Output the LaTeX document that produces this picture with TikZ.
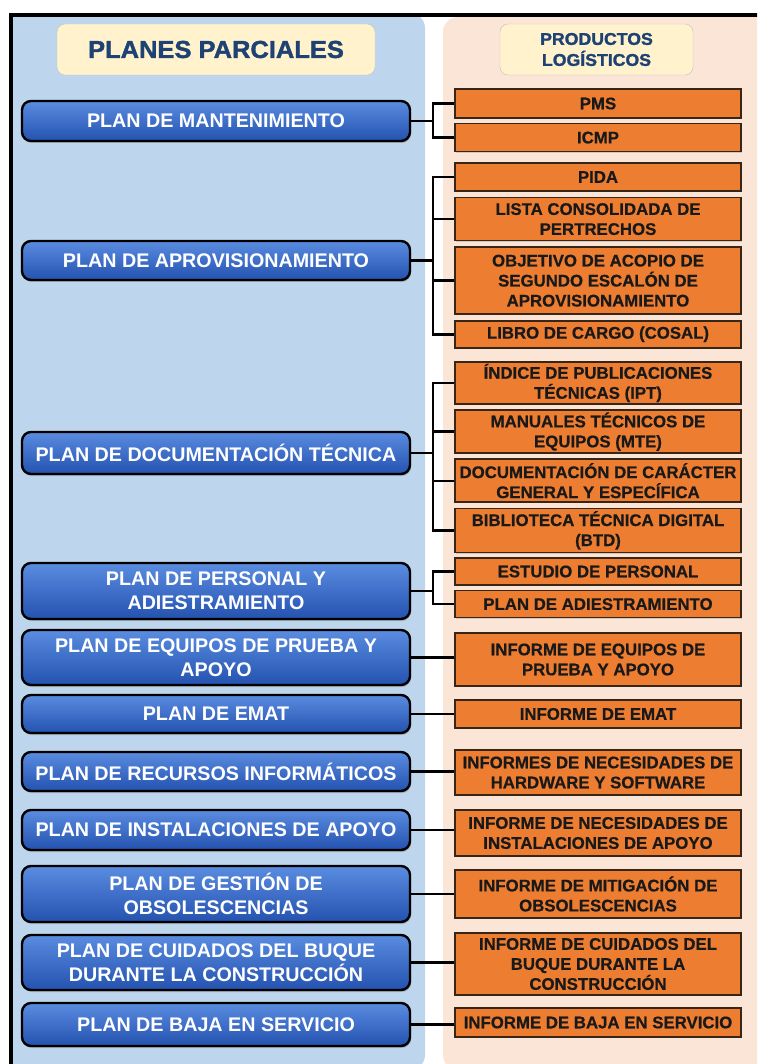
\documentclass[tikz,border=0pt]{standalone}
\usepackage{fontspec}
\setmainfont{Liberation Sans}
\newfontfamily\headfont[FakeStretch=1.04, FakeBold=1.6]{Liberation Sans}
\newfontfamily\prodfont[FakeBold=0.6]{Liberation Sans}
\usepackage{xcolor}
\definecolor{PanBlue}{RGB}{190,214,237}
\definecolor{PanPeach}{RGB}{251,229,215}
\definecolor{HeadFill}{RGB}{255,242,204}
\definecolor{HeadText}{RGB}{30,66,116}
\definecolor{PlanTop}{RGB}{90,140,224}
\definecolor{PlanBot}{RGB}{36,82,176}
\definecolor{ProdFill}{RGB}{237,125,49}
\definecolor{ProdLine}{RGB}{55,38,22}
\usetikzlibrary{positioning,shadows}

\begin{document}
\begin{tikzpicture}[x=1pt, y=-1pt]
\tikzstyle{plan}=[draw=black, line width=2.4pt, rounded corners=9pt, top color=PlanTop, bottom color=PlanBot, text=white, minimum width=388pt, align=center, font=\fontsize{19.7}{24}\selectfont\bfseries, drop shadow={shadow xshift=1pt, shadow yshift=-2pt, opacity=.45}]
\tikzstyle{prod}=[draw=ProdLine, line width=1.6pt, fill=ProdFill, text=black!90, minimum width=286pt, inner sep=1pt, align=center, font=\prodfont\fontsize{16.8}{20}\selectfont\bfseries, drop shadow={shadow xshift=1.2pt, shadow yshift=-1.2pt, opacity=.3}]
\tikzstyle{head}=[draw=black!25, fill=HeadFill, rounded corners=8pt, minimum height=51pt, text=HeadText, align=center]
\tikzstyle{conn}=[line width=2.4pt, draw=black]

\useasboundingbox (0,0) rectangle (757,1064);
\clip (0,0) rectangle (757,1064);

% background panels and frame
\fill[PanBlue, rounded corners=15pt] (9,13) rectangle (425,1070);
\fill[PanBlue] (9,13) rectangle (40,60);
\fill[PanPeach, rounded corners=15pt] (443,17) rectangle (790,1070);
\draw[line width=4pt] (11,1080) -- (11,15) -- (790,15);

\node[head, minimum width=318pt, font=\headfont\bfseries\fontsize{24.5}{24}\selectfont] (hplan) at (216,49.5) {PLANES PARCIALES};
\node[head, minimum width=193pt, font=\headfont\bfseries\fontsize{17}{21}\selectfont] (hprod) at (596.5,49.5) {PRODUCTOS\\LOGÍSTICOS};

% planes parciales
\node[plan, minimum height=40pt] (mant) at (216,121) {PLAN DE MANTENIMIENTO};
\node[plan, minimum height=39pt] (aprov) at (216,260.5) {PLAN DE APROVISIONAMIENTO};
\node[plan, minimum height=42pt] (doc) at (216,453) {PLAN DE DOCUMENTACIÓN TÉCNICA};
\node[plan, minimum height=56pt] (pers) at (216,591) {PLAN DE PERSONAL Y\\ADIESTRAMIENTO};
\node[plan, minimum height=55pt] (equip) at (216,657.5) {PLAN DE EQUIPOS DE PRUEBA Y\\APOYO};
\node[plan, minimum height=38pt] (emat) at (216,714) {PLAN DE EMAT};
\node[plan, minimum height=39pt] (recur) at (216,771.5) {PLAN DE RECURSOS INFORMÁTICOS};
\node[plan, minimum height=40pt] (instal) at (216,830) {PLAN DE INSTALACIONES DE APOYO};
\node[plan, minimum height=56pt] (obsol) at (216,894) {PLAN DE GESTIÓN DE\\OBSOLESCENCIAS};
\node[plan, minimum height=55pt] (cuid) at (216,962.5) {PLAN DE CUIDADOS DEL BUQUE\\DURANTE LA CONSTRUCCIÓN};
\node[plan, minimum height=43pt] (baja) at (216,1024.5) {PLAN DE BAJA EN SERVICIO};

% productos logisticos
\node[prod, minimum height=29pt] (pms) at (598,103.5) {PMS};
\node[prod, minimum height=28pt, below=4pt of pms] (icmp) {ICMP};

\node[prod, minimum height=28pt] (pida) at (598,177) {PIDA};
\node[prod, minimum height=43pt, below=5pt of pida] (lista) {LISTA CONSOLIDADA DE\\PERTRECHOS};
\node[prod, minimum height=67pt, below=5pt of lista] (acopio) {OBJETIVO DE ACOPIO DE\\SEGUNDO ESCALÓN DE\\APROVISIONAMIENTO};
\node[prod, minimum height=27pt, below=5pt of acopio] (libro) {LIBRO DE CARGO (COSAL)};

\node[prod, minimum height=42pt] (ipt) at (598,383) {ÍNDICE DE PUBLICACIONES\\TÉCNICAS (IPT)};
\node[prod, minimum height=43pt, below=4.5pt of ipt] (mte) {MANUALES TÉCNICOS DE\\EQUIPOS (MTE)};
\node[prod, minimum height=43pt, below=4.5pt of mte] (docgen) {DOCUMENTACIÓN DE CARÁCTER\\GENERAL Y ESPECÍFICA};
\node[prod, minimum height=44pt, below=4.5pt of docgen] (btd) {BIBLIOTECA TÉCNICA DIGITAL\\(BTD)};

\node[prod, minimum height=27pt] (estud) at (598,571.5) {ESTUDIO DE PERSONAL};
\node[prod, minimum height=27pt, below=4pt of estud] (adies) {PLAN DE ADIESTRAMIENTO};

\node[prod, minimum height=53pt] (iequip) at (598,659.5) {INFORME DE EQUIPOS DE\\PRUEBA Y APOYO};
\node[prod, minimum height=28pt] (iemat) at (598,714) {INFORME DE EMAT};
\node[prod, minimum height=45pt] (irecur) at (598,772.5) {INFORMES DE NECESIDADES DE\\HARDWARE Y SOFTWARE};
\node[prod, minimum height=46pt] (iinstal) at (598,833) {INFORME DE NECESIDADES DE\\INSTALACIONES DE APOYO};
\node[prod, minimum height=48pt] (iobsol) at (598,894) {INFORME DE MITIGACIÓN DE\\OBSOLESCENCIAS};
\node[prod, minimum height=62pt] (icuid) at (598,964) {INFORME DE CUIDADOS DEL\\BUQUE DURANTE LA\\CONSTRUCCIÓN};
\node[prod, minimum height=29pt] (ibaja) at (598,1022.5) {INFORME DE BAJA EN SERVICIO};

% conectores
\coordinate (tx) at (433,0);
\foreach \a in {mant, aprov, doc, pers}
  \draw[conn] (\a.east) -- (\a.east -| tx);
\draw[conn] (pms.west) -- (pms.west -| tx) -- (icmp.west -| tx) -- (icmp.west);
\draw[conn] (pida.west) -- (pida.west -| tx) -- (libro.west -| tx) -- (libro.west);
\draw[conn] (ipt.west) -- (ipt.west -| tx) -- (btd.west -| tx) -- (btd.west);
\draw[conn] (estud.west) -- (estud.west -| tx) -- (adies.west -| tx) -- (adies.west);
\foreach \p in {lista, acopio, mte, docgen}
  \draw[conn] (\p.west) -- (\p.west -| tx);
\foreach \a/\b in {equip/iequip, emat/iemat, recur/irecur, instal/iinstal, obsol/iobsol, cuid/icuid, baja/ibaja}
  \draw[conn] (\a.east) -- (\a.east -| \b.west);
\end{tikzpicture}
\end{document}
